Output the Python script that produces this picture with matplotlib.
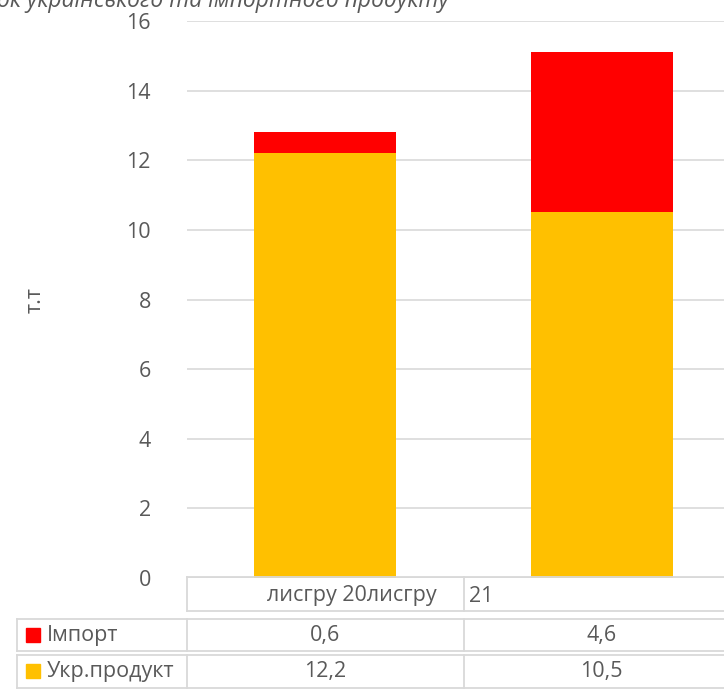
import matplotlib
matplotlib.use("Agg")
import matplotlib.pyplot as plt
from matplotlib.transforms import blended_transform_factory
from matplotlib.patches import Rectangle
from matplotlib.lines import Line2D

categories = ["лисгру 20лисгру", "21"]
series_names = ["Імпорт", "Укр.продукт"]
ukr = [12.2, 10.5]
imp = [0.6, 4.6]
ukr_labels = ["12,2", "10,5"]
imp_labels = ["0,6", "4,6"]
yticks = [0, 2, 4, 6, 8, 10, 12, 14, 16]
title = "ок українського та імпортного продукту"
ylabel = "т.т"

RED = "#FF0000"
YEL = "#FFC000"
GRID = "#D9D9D9"
TXT = "#595959"
FONT = "Open Sans"
FS = 15.5

W, H = 724, 690
fig = plt.figure(figsize=(W / 100, H / 100), dpi=100)

def fy(py):
    return 1 - py / H

def fx(px):
    return px / W

ax = fig.add_axes([fx(187), fy(578), 553 / W, 557 / H])
x = list(range(len(categories)))
ax.bar(x, ukr, width=0.515, color=YEL, zorder=3)
ax.bar(x, imp, bottom=ukr, width=0.515, color=RED, zorder=3)
ax.set_xlim(-0.5, 1.5)
ax.set_ylim(0, 16)
ax.set_yticks(yticks)
ax.set_yticklabels([str(t) for t in yticks], fontsize=FS, color=TXT, family=FONT)
ax.tick_params(axis="y", length=0, pad=26)
ax.set_xticks([])
ax.grid(axis="y", color=GRID, linewidth=1.2, zorder=0)
for s in ax.spines.values():
    s.set_visible(False)

# y label
fig.text(fx(35), fy(300), ylabel, rotation=90, ha="center", va="center",
         fontsize=FS, color=TXT, family=FONT)

# title (clipped at top, as in the reference)
fig.text(fx(-3), fy(7), title, ha="left", va="baseline", fontsize=16.5,
         style="italic", color=TXT, family=FONT)

# data table
bt = blended_transform_factory(ax.transData, fig.transFigure)
lw = 1.3

rows = [(577, 611), (619, 651), (655, 688)]
edges = [-0.5, 0.5, 1.5]
for i, (t, b) in enumerate(rows):
    for py in (t, b):
        fig.add_artist(Line2D([-0.5, 1.6], [fy(py), fy(py)], transform=bt,
                              color=GRID, lw=lw))
    for e in edges:
        fig.add_artist(Line2D([e, e], [fy(t), fy(b)], transform=bt,
                              color=GRID, lw=lw))
    if i > 0:
        for py in (t, b):
            fig.add_artist(Line2D([fx(17), fx(187)], [fy(py), fy(py)],
                                  transform=fig.transFigure, color=GRID, lw=lw))
        fig.add_artist(Line2D([fx(17), fx(17)], [fy(t), fy(b)],
                              transform=fig.transFigure, color=GRID, lw=lw))

# header texts
fig.text(fx(352), fy(596), categories[0], ha="center", va="center",
         fontsize=FS, color=TXT, family=FONT)
fig.text(fx(469), fy(596), categories[1], ha="left", va="center",
         fontsize=FS, color=TXT, family=FONT)

# legend rows
row_vals = [(series_names[0], RED, imp_labels, 635), (series_names[1], YEL, ukr_labels, 671)]
for name, col, labs, cy in row_vals:
    fig.add_artist(Rectangle((fx(26), fy(cy + 7)), 14 / W, 14 / H,
                             transform=fig.transFigure, color=col))
    fig.text(fx(47), fy(cy), name, ha="left", va="center", fontsize=FS,
             color=TXT, family=FONT)
    for i, lab in enumerate(labs):
        fig.text(i, fy(cy), lab, transform=bt, ha="center", va="center",
                 fontsize=FS, color=TXT, family=FONT)

fig.savefig("out.png", dpi=100)
